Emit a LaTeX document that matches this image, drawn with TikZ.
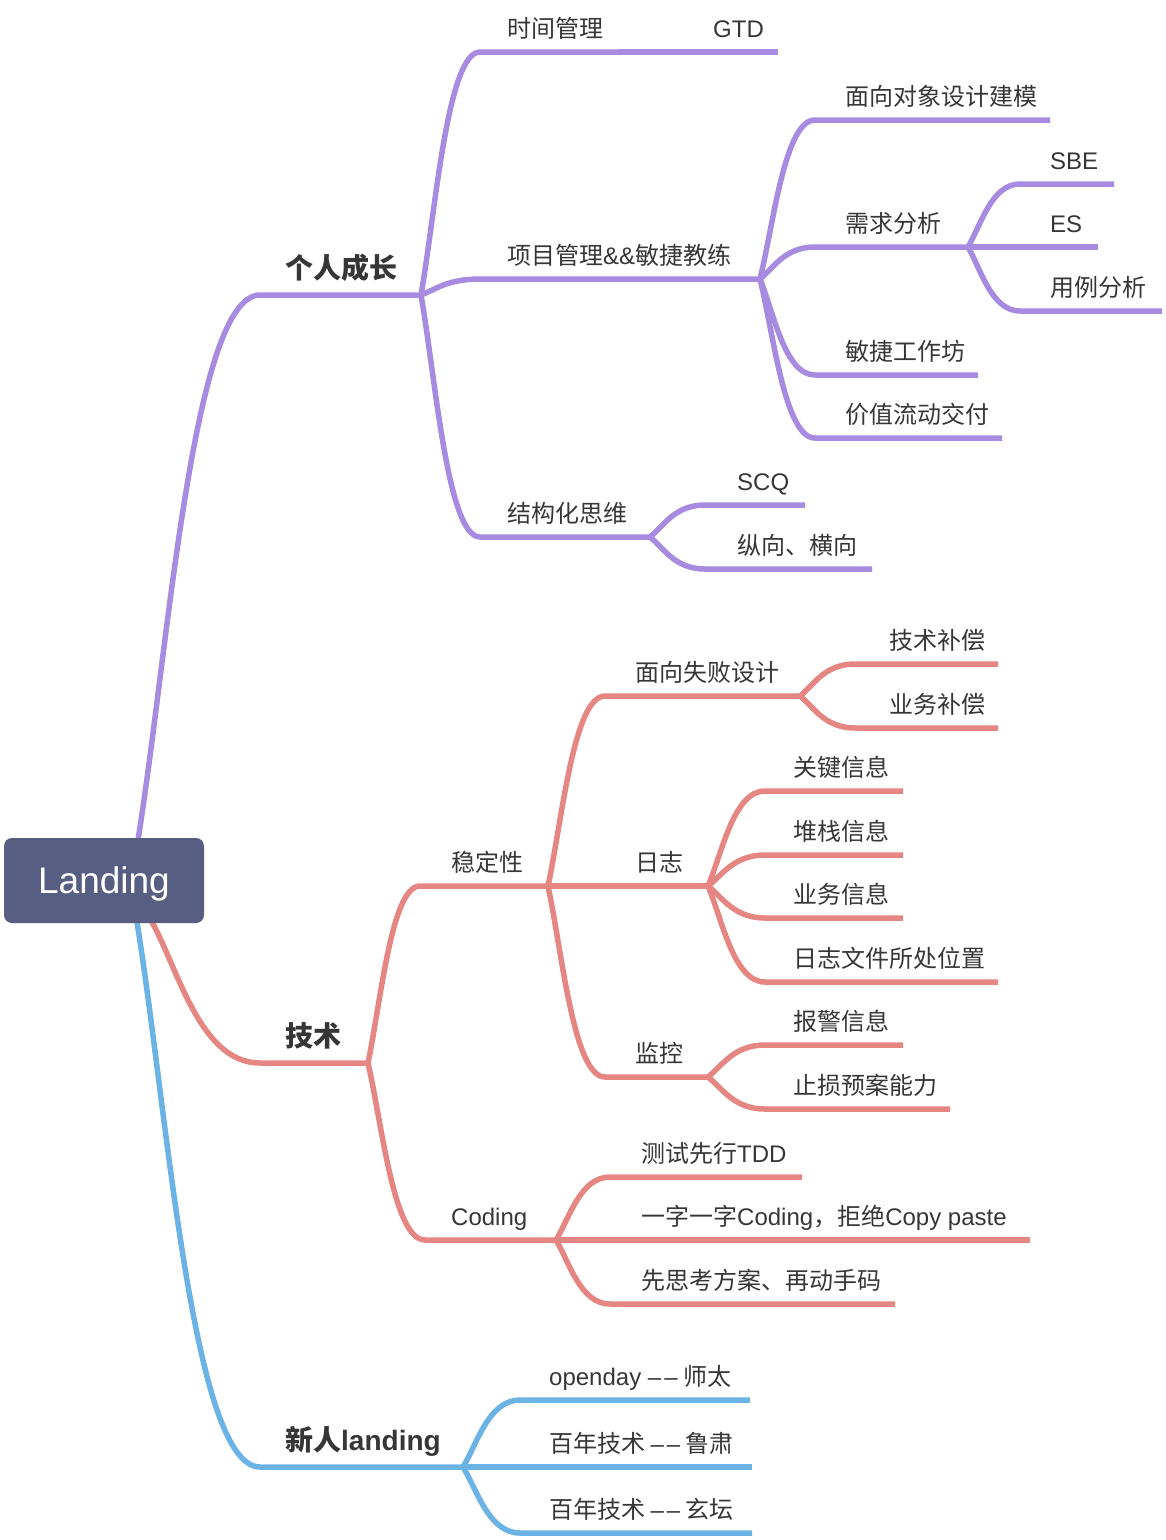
\documentclass[tikz,border=0pt]{standalone}
\usepackage{fontspec}
\setmainfont{Noto Sans CJK SC}
\newfontfamily\lat{Liberation Sans}
\usetikzlibrary{calc}
\definecolor{pur}{HTML}{A68BE0}
\definecolor{mred}{HTML}{E58683}
\definecolor{mblue}{HTML}{6BB2E5}
\definecolor{rootc}{HTML}{585E82}
\definecolor{txt}{HTML}{363636}
\tikzset{
  lbl/.style={anchor=base west, inner sep=0pt, text=txt, font=\fontsize{24}{24}\selectfont},
  lblb/.style={anchor=base west, inner sep=0pt, text=txt, font=\fontsize{28}{28}\selectfont\bfseries},
  pline/.style={draw=pur, line width=5.5pt, line join=round},
  rline/.style={draw=mred, line width=5.5pt, line join=round},
  bline/.style={draw=mblue, line width=5.5pt, line join=round},
  rootbox/.style={fill=rootc, rounded corners=8pt, minimum width=200pt, minimum height=85pt, inner sep=0pt, text=white, font=\lat\fontsize{37}{37}\selectfont, text height=26.5pt, text depth=0pt},
}
% branch: steep straight-ish rise, then a rounded turn into the horizontal underline
\newcommand\mmbranch[4]{\draw[#1] let \p1=(#2), \p2=(#3) in (#2) .. controls ({\x1+0.25*(\x2-\x1)},{\y1+0.35*(\y2-\y1)}) and ({\x1+0.45*(\x2-\x1)},{\y2}) .. (#3) -- (#4);}
\newcommand\dd{{\lat –\kern3pt–}}
\begin{document}
\begin{tikzpicture}[x=1pt,y=-1pt]
\useasboundingbox (0,0) rectangle (1166,1540);
% ---------- coordinates ----------
\coordinate (rootP) at (138,840);
\coordinate (rootR) at (152,922);
\coordinate (rootB) at (137,922);
% purple
\coordinate (grow-s) at (260,295); \coordinate (grow-e) at (421,295);
\coordinate (time-s) at (480,52);  \coordinate (time-e) at (618,52);
\coordinate (gtd-e) at (778,52);
\coordinate (pm-s) at (480,279);   \coordinate (pm-e) at (760,279);
\coordinate (oo-s) at (815,120);   \coordinate (oo-e) at (1050,120);
\coordinate (req-s) at (815,247);  \coordinate (req-e) at (968,247);
\coordinate (sbe-s) at (1020,184); \coordinate (sbe-e) at (1114,184);
\coordinate (es-e) at (1098,247);
\coordinate (uc-s) at (1020,311);  \coordinate (uc-e) at (1162,311);
\coordinate (ws-s) at (815,375);   \coordinate (ws-e) at (978,375);
\coordinate (vs-s) at (815,438);   \coordinate (vs-e) at (1002,438);
\coordinate (st-s) at (480,537);   \coordinate (st-e) at (650,537);
\coordinate (scq-s) at (705,505);  \coordinate (scq-e) at (805,505);
\coordinate (vh-s) at (705,569);   \coordinate (vh-e) at (872,569);
% red
\coordinate (tech-s) at (260,1063); \coordinate (tech-e) at (368,1063);
\coordinate (stab-s) at (420,886);  \coordinate (stab-e) at (548,886);
\coordinate (ff-s) at (605,696);    \coordinate (ff-e) at (800,696);
\coordinate (tc-s) at (855,664);    \coordinate (tc-e) at (998,664);
\coordinate (bc-s) at (855,728);    \coordinate (bc-e) at (998,728);
\coordinate (log-e) at (708,886);
\coordinate (k1-s) at (765,791);    \coordinate (k1-e) at (903,791);
\coordinate (k2-s) at (765,855);    \coordinate (k2-e) at (903,855);
\coordinate (k3-s) at (765,918);    \coordinate (k3-e) at (903,918);
\coordinate (k4-s) at (765,982);    \coordinate (k4-e) at (998,982);
\coordinate (mon-s) at (605,1077);  \coordinate (mon-e) at (708,1077);
\coordinate (m1-s) at (765,1045);   \coordinate (m1-e) at (903,1045);
\coordinate (m2-s) at (765,1109);   \coordinate (m2-e) at (950,1109);
\coordinate (cod-s) at (425,1240);  \coordinate (cod-e) at (556,1240);
\coordinate (c1-s) at (610,1177);   \coordinate (c1-e) at (802,1177);
\coordinate (c2-e) at (1030,1240);
\coordinate (c3-s) at (610,1304);   \coordinate (c3-e) at (895,1304);
% blue
\coordinate (new-s) at (260,1467);  \coordinate (new-e) at (463,1467);
\coordinate (o1-s) at (520,1400);   \coordinate (o1-e) at (750,1400);
\coordinate (o2-e) at (752,1467);
\coordinate (o3-s) at (520,1533);   \coordinate (o3-e) at (752,1533);
% ---------- connectors ----------
\mmbranch{pline}{rootP}{grow-s}{grow-e}
\mmbranch{pline}{grow-e}{time-s}{time-e}
\draw[pline] (time-e) -- (gtd-e);
\mmbranch{pline}{grow-e}{pm-s}{pm-e}
\mmbranch{pline}{pm-e}{oo-s}{oo-e}
\mmbranch{pline}{pm-e}{req-s}{req-e}
\mmbranch{pline}{req-e}{sbe-s}{sbe-e}
\draw[pline] (req-e) -- (es-e);
\mmbranch{pline}{req-e}{uc-s}{uc-e}
\mmbranch{pline}{pm-e}{ws-s}{ws-e}
\mmbranch{pline}{pm-e}{vs-s}{vs-e}
\mmbranch{pline}{grow-e}{st-s}{st-e}
\mmbranch{pline}{st-e}{scq-s}{scq-e}
\mmbranch{pline}{st-e}{vh-s}{vh-e}
\mmbranch{rline}{rootR}{tech-s}{tech-e}
\mmbranch{rline}{tech-e}{stab-s}{stab-e}
\mmbranch{rline}{stab-e}{ff-s}{ff-e}
\mmbranch{rline}{ff-e}{tc-s}{tc-e}
\mmbranch{rline}{ff-e}{bc-s}{bc-e}
\draw[rline] (stab-e) -- (log-e);
\mmbranch{rline}{log-e}{k1-s}{k1-e}
\mmbranch{rline}{log-e}{k2-s}{k2-e}
\mmbranch{rline}{log-e}{k3-s}{k3-e}
\mmbranch{rline}{log-e}{k4-s}{k4-e}
\mmbranch{rline}{stab-e}{mon-s}{mon-e}
\mmbranch{rline}{mon-e}{m1-s}{m1-e}
\mmbranch{rline}{mon-e}{m2-s}{m2-e}
\mmbranch{rline}{tech-e}{cod-s}{cod-e}
\mmbranch{rline}{cod-e}{c1-s}{c1-e}
\draw[rline] (cod-e) -- (c2-e);
\mmbranch{rline}{cod-e}{c3-s}{c3-e}
\mmbranch{bline}{rootB}{new-s}{new-e}
\mmbranch{bline}{new-e}{o1-s}{o1-e}
\draw[bline] (new-e) -- (o2-e);
\mmbranch{bline}{new-e}{o3-s}{o3-e}
% ---------- root ----------
\node[rootbox] (root) at (104,880.5) {Landing};
% ---------- labels ----------
\node[lblb] (grow) at (285,278) {个人成长};
\node[lbl] (time) at (507,37) {时间管理};
\node[lbl] (gtd) at (713,37) {\lat GTD};
\node[lbl] (pm) at (507,264) {项目管理{\lat\&\&}敏捷教练};
\node[lbl] (oo) at (845,105) {面向对象设计建模};
\node[lbl] (req) at (845,232) {需求分析};
\node[lbl] (sbe) at (1050,169) {\lat SBE};
\node[lbl] (es) at (1050,232) {\lat ES};
\node[lbl] (uc) at (1050,296) {用例分析};
\node[lbl] (ws) at (845,360) {敏捷工作坊};
\node[lbl] (vs) at (845,423) {价值流动交付};
\node[lbl] (st) at (507,522) {结构化思维};
\node[lbl] (scq) at (737,490) {\lat SCQ};
\node[lbl] (vh) at (737,554) {纵向、横向};
\node[lblb] (tech) at (285,1046) {技术};
\node[lbl] (stab) at (451,871) {稳定性};
\node[lbl] (ff) at (635,681) {面向失败设计};
\node[lbl] (tc) at (889,649) {技术补偿};
\node[lbl] (bc) at (889,713) {业务补偿};
\node[lbl] (log) at (635,871) {日志};
\node[lbl] (k1) at (793,776) {关键信息};
\node[lbl] (k2) at (793,840) {堆栈信息};
\node[lbl] (k3) at (793,903) {业务信息};
\node[lbl] (k4) at (793,967) {日志文件所处位置};
\node[lbl] (mon) at (635,1062) {监控};
\node[lbl] (m1) at (793,1030) {报警信息};
\node[lbl] (m2) at (793,1094) {止损预案能力};
\node[lbl] (cod) at (451,1225) {\lat Coding};
\node[lbl] (c1) at (641,1162) {测试先行{\lat TDD}};
\node[lbl] (c2) at (641,1225) {一字一字{\lat Coding}，拒绝{\lat Copy paste}};
\node[lbl] (c3) at (641,1289) {先思考方案、再动手码};
\node[lblb] (new) at (285,1450) {新人{\lat landing}};
\node[lbl] (o1) at (549,1385) {{\lat openday }\dd{} 师太};
\node[lbl] (o2) at (549,1452) {百年技术 \dd{} 鲁肃};
\node[lbl] (o3) at (549,1518) {百年技术 \dd{} 玄坛};
\end{tikzpicture}
\end{document}
